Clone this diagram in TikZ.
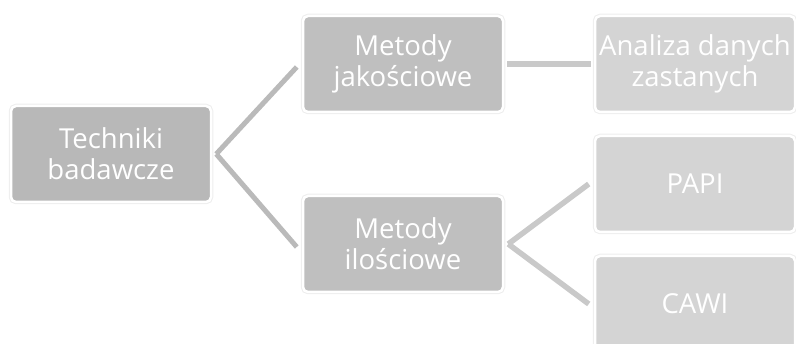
\documentclass[tikz,border=0pt]{standalone}
\usepackage{fontspec}
\setmainfont{Open Sans}
\begin{document}
\begin{tikzpicture}[x=1pt,y=-1pt,
  box/.style={rectangle, rounded corners=5pt, minimum width=200pt, minimum height=96pt,
    inner sep=0pt, align=center, text=white, font=\fontsize{27.5}{31}\selectfont,
    draw=white, line width=2.5pt,
    preaction={draw=black!7, line width=4.5pt}},
  lev1/.style={box, fill=black!28},
  lev2/.style={box, fill=black!25},
  lev3/.style={box, fill=black!17},
  con1/.style={draw=black!27, line width=5pt},
  con2/.style={draw=black!21, line width=5.5pt}]
\useasboundingbox (0,0) rectangle (796,344);
\node[lev1] (t) at (111,154) {Techniki\\badawcze};
\node[lev2] (mj) at (403,64) {Metody\\jakościowe};
\node[lev2] (mi) at (403,244) {Metody\\ilościowe};
\node[lev3] (a) at (695,64) {Analiza danych\\zastanych};
\node[lev3] (p) at (695,184) {PAPI};
\node[lev3] (c) at (695,304) {CAWI};
\coordinate (t1) at ([xshift=4pt]t.east);
\coordinate (m1) at ([xshift=4pt]mi.east);
\draw[con1] (t1) -- ([xshift=-5pt,yshift=-3pt]mj.west);
\draw[con1] (t1) -- ([xshift=-5pt,yshift=-3pt]mi.west);
\draw[con2] ([xshift=3pt]mj.east) -- ([xshift=-3pt]a.west);
\draw[con2] (m1) -- ([xshift=-5pt]p.west);
\draw[con2] (m1) -- ([xshift=-5pt]c.west);
\end{tikzpicture}
\end{document}
